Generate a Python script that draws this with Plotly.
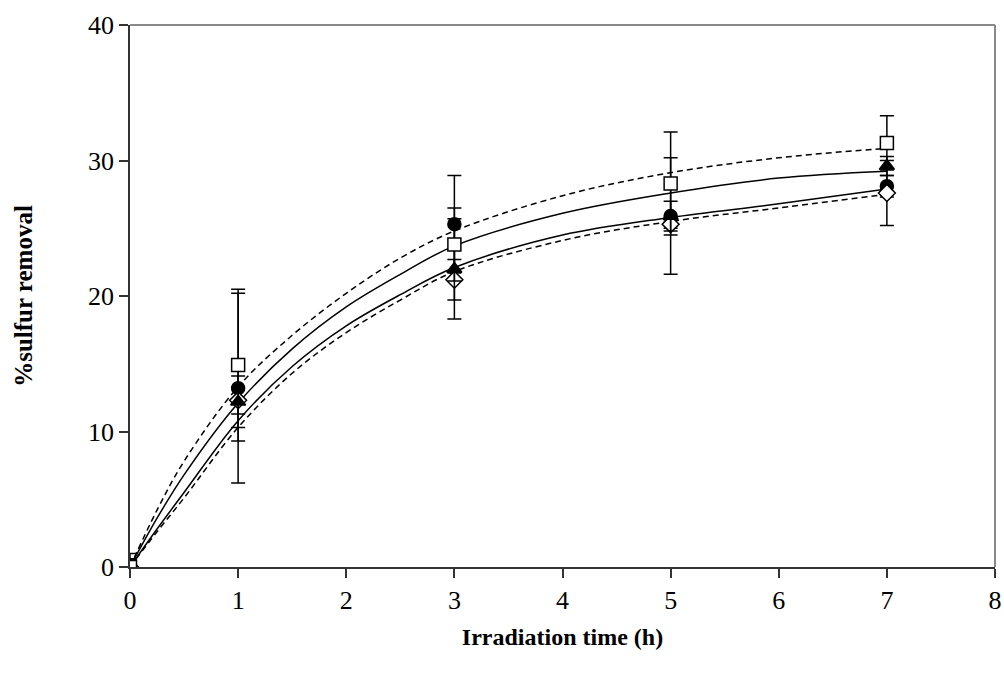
import plotly.graph_objects as go

# ---- data ----
time_h = [0, 1, 3, 5, 7]

sq_y = [0, 14.9, 23.8, 28.3, 31.3]
sq_err = [1.0, 5.6, 2.7, 3.8, 2.0]

ci_y = [0, 13.2, 25.3, 25.9, 28.1]
ci_err = [0.6, 7.0, 3.6, 4.3, 0.8]

tr_y = [0, 12.2, 22.0, 25.9, 29.6]
tr_err = [0.6, 1.9, 3.7, 1.1, 0.7]

di_y = [0, 12.3, 21.2, 25.3, 27.6]
di_err = [0.6, 1.0, 1.5, 0.3, 2.4]

# fitted curves
curve_x = [0, 0.25, 0.5, 1, 1.5, 2, 2.5, 3, 4, 5, 6, 7]
fit_sq = [0, 4.2, 7.8, 13.3, 17.1, 20.2, 22.8, 24.8, 27.4, 29.1, 30.2, 30.9]
fit_tr = [0, 3.6, 6.8, 12.1, 16.1, 19.2, 21.6, 23.7, 26.1, 27.6, 28.7, 29.2]
fit_ci = [0, 2.8, 5.5, 10.8, 14.8, 17.8, 20.1, 22.1, 24.5, 25.8, 26.8, 27.9]
fit_di = [0, 2.6, 5.1, 10.3, 14.3, 17.3, 19.7, 21.8, 24.1, 25.5, 26.5, 27.5]

x_ticks = [0, 1, 2, 3, 4, 5, 6, 7, 8]
y_ticks = [0, 10, 20, 30, 40]

FONT = "Liberation Serif, Times New Roman, serif"

fig = go.Figure()

dash = "6px,4px"
for ys, d in [(fit_sq, dash), (fit_tr, "solid"), (fit_ci, "solid"), (fit_di, dash)]:
    fig.add_trace(go.Scatter(x=curve_x, y=ys, mode="lines", line_shape="spline",
                             line=dict(color="black", width=1.5, dash=d),
                             hoverinfo="skip", showlegend=False))

def pts(ys, err, symbol, fill):
    fig.add_trace(go.Scatter(
        x=time_h, y=ys, mode="markers",
        marker=dict(symbol=symbol, size=13, color=fill,
                    line=dict(color="black", width=1.5)),
        error_y=dict(type="data", array=err, visible=True, color="black",
                     thickness=1.5, width=7),
        showlegend=False))

pts(ci_y, ci_err, "circle", "black")
pts(di_y, di_err, "diamond", "white")
pts(tr_y, tr_err, "triangle-up", "black")
pts(sq_y, sq_err, "square", "white")

fig.update_layout(
    width=1004, height=684,
    margin=dict(l=130, r=9, t=25, b=117),
    paper_bgcolor="white", plot_bgcolor="white",
    font=dict(family=FONT, size=22, color="black"),
    xaxis=dict(range=[0, 8], tickvals=x_ticks, ticks="outside", ticklen=9,
               tickwidth=1.5, tickcolor="#333", showline=True, linecolor="#333",
               linewidth=2, showgrid=False, zeroline=False, automargin=False,
               ticklabeloverflow="allow",
               tickfont=dict(family=FONT, size=26),
               title=dict(text="<b>Irradiation time (h)</b>", standoff=14,
                          font=dict(family=FONT, size=24))),
    yaxis=dict(range=[0, 40], tickvals=y_ticks, ticks="outside", ticklen=9,
               tickwidth=1.5, tickcolor="#333", showline=True, linecolor="#333",
               linewidth=1.5, showgrid=False, zeroline=False, automargin=False,
               tickfont=dict(family=FONT, size=26),
               title=dict(text="<b>%sulfur removal</b>", standoff=48,
                          font=dict(family=FONT, size=25))),
)

# gray top and right frame of the plot area
fig.add_shape(type="line", xref="paper", yref="paper", x0=0, x1=1, y0=1, y1=1,
              line=dict(color="#888", width=2))
fig.add_shape(type="line", xref="paper", yref="paper", x0=1, x1=1, y0=0, y1=1,
              line=dict(color="#888", width=2))

fig.write_html("out.html")
